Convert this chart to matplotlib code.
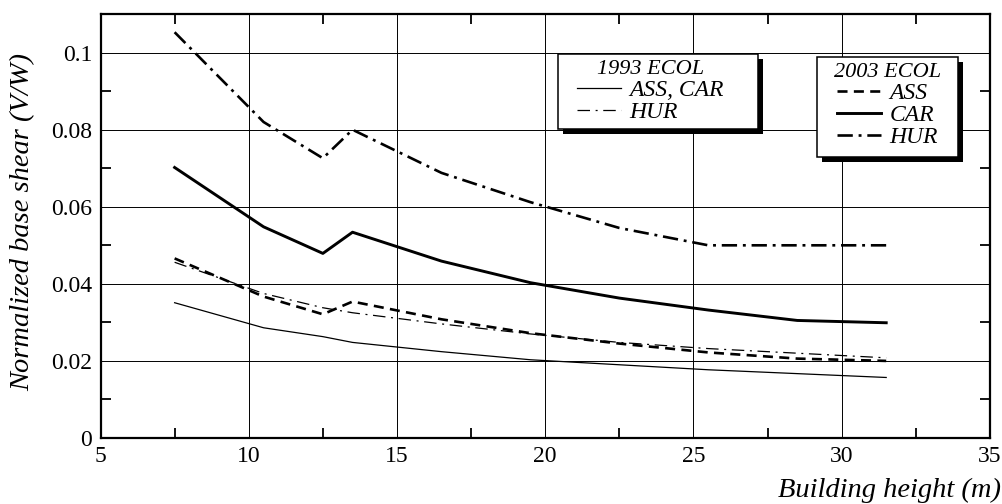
import matplotlib.pyplot as plt
from matplotlib.patches import Rectangle
from matplotlib.ticker import MultipleLocator

plt.rcParams['font.family'] = ['Liberation Serif', 'DejaVu Serif']

# building height (m)
heights = [7.5, 10.5, 12.5, 13.5, 16.5, 19.5, 22.5, 25.5, 28.5, 31.5]

# normalized base shear V/W
ecol93_ass_car = [0.0351, 0.0286, 0.0263, 0.0248, 0.0224, 0.0203, 0.0190, 0.0177, 0.0167, 0.0157]
ecol93_hur = [0.0456, 0.0375, 0.0338, 0.0325, 0.0296, 0.0270, 0.0248, 0.0232, 0.0220, 0.0208]
ecol03_ass = [0.0466, 0.0367, 0.0321, 0.0354, 0.0308, 0.0272, 0.0245, 0.0222, 0.0206, 0.0200]
ecol03_car = [0.0702, 0.0548, 0.0479, 0.0534, 0.0459, 0.0403, 0.0363, 0.0332, 0.0305, 0.0299]
ecol03_hur = [0.1053, 0.0820, 0.0726, 0.0800, 0.0688, 0.0612, 0.0545, 0.0500, 0.0500, 0.0500]

x_ticks = [5, 10, 15, 20, 25, 30, 35]
y_ticks = [0, 0.02, 0.04, 0.06, 0.08, 0.1]
y_tick_labels = ['0', '0.02', '0.04', '0.06', '0.08', '0.1']

fig = plt.figure(figsize=(10.02, 5.04), dpi=100)
ax = fig.add_axes([0.1003, 0.131, 0.8877, 0.841])

l93a, = ax.plot(heights, ecol93_ass_car, color='black', lw=0.9)
l93h, = ax.plot(heights, ecol93_hur, color='black', lw=0.9,
                linestyle=(0, (10, 4.5, 1.6, 4.5)))
l03a, = ax.plot(heights, ecol03_ass, color='black', lw=1.9,
                linestyle=(0, (3.8, 2.4)))
l03c, = ax.plot(heights, ecol03_car, color='black', lw=2.1)
l03h, = ax.plot(heights, ecol03_hur, color='black', lw=1.9,
                linestyle=(0, (5.8, 2.2, 1.1, 2.2)))

ax.set_xlim(5, 35)
ax.set_ylim(0, 0.11)
ax.set_xticks(x_ticks)
ax.set_yticks(y_ticks)
ax.set_yticklabels(y_tick_labels)
ax.xaxis.set_minor_locator(MultipleLocator(2.5))
ax.yaxis.set_minor_locator(MultipleLocator(0.01))
ax.tick_params(which='both', direction='in', top=True, right=True,
               labelsize=17, color='black')
ax.tick_params(which='major', length=0, pad=6)
ax.tick_params(which='minor', length=7, width=1.3)
ax.grid(True, which='major', color='black', lw=0.7)
for s in ax.spines.values():
    s.set_linewidth(1.6)

ital = {'family': 'Liberation Serif', 'style': 'italic', 'size': 20.5}
ax.set_ylabel('Normalized base shear (V/W)', fontdict=ital, va='center')
ax.yaxis.set_label_coords(-0.087, 0.51)
ax.set_xlabel('Building height (m)', fontdict=ital, ha='right', va='center')
ax.xaxis.set_label_coords(1.012, -0.123)

entry_font = {'family': 'Liberation Serif', 'style': 'italic', 'size': 17}
title_font = {'family': 'Liberation Serif', 'style': 'italic', 'size': 16}
common = dict(prop=entry_font, title_fontproperties=title_font,
              loc='upper left', borderaxespad=0, borderpad=0, frameon=False,
              handlelength=1.85, handletextpad=0.35, labelspacing=0.02)
leg1 = ax.legend([l93a, l93h], ['ASS, CAR', 'HUR'], title='1993 ECOL',
                 bbox_to_anchor=(0.5357, 0.8915), **common)
ax.add_artist(leg1)
leg2 = ax.legend([l03a, l03c, l03h], ['ASS', 'CAR', 'HUR'], title='2003 ECOL',
                 bbox_to_anchor=(0.8246, 0.8844), **common)

# boxed frame with a hard black drop shadow around each legend
fig.canvas.draw()
renderer = fig.canvas.get_renderer()
inv = ax.transAxes.inverted()
pads = [(19, 35, 6, 6), (17, 17, 6, 9)]   # left, right, top, bottom in px
for leg, (pl, pr, pt, pb) in zip((leg1, leg2), pads):
    leg.set_zorder(7)
    bb = leg.get_window_extent(renderer)
    x0, y0 = inv.transform((bb.x0 - pl, bb.y0 - pb))
    x1, y1 = inv.transform((bb.x1 + pr, bb.y1 + pt))
    dx = 5 / ax.bbox.width
    dy = 5 / ax.bbox.height
    ax.add_patch(Rectangle((x0 + dx, y0 - dy), x1 - x0, y1 - y0,
                           transform=ax.transAxes, facecolor='black',
                           edgecolor='none', zorder=5.5, clip_on=False))
    ax.add_patch(Rectangle((x0, y0), x1 - x0, y1 - y0,
                           transform=ax.transAxes, facecolor='white',
                           edgecolor='black', lw=1.1, zorder=5.8,
                           clip_on=False))

fig.savefig('out.png', dpi=100)
